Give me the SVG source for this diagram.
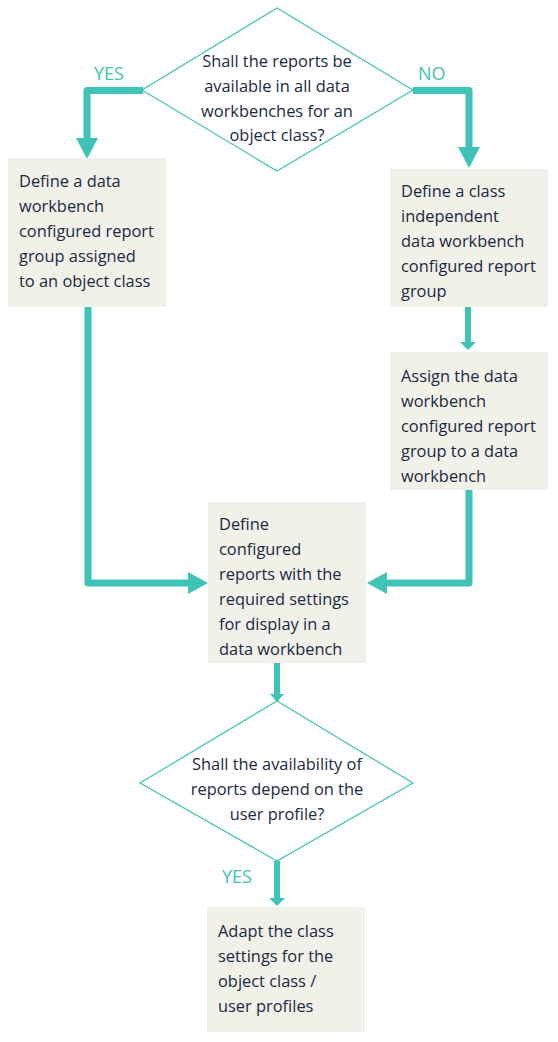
<svg xmlns="http://www.w3.org/2000/svg" width="558" height="1042" viewBox="0 0 558 1042">
<style>
.box{fill:#F1F0E9;}
.dia{fill:#FFFFFF;stroke:#3FC3B6;stroke-width:1.2;}
.t{font-family:"Open Sans","Noto Sans",sans-serif;font-size:16.4px;fill:#1A2A40;}
.c{text-anchor:middle;}
.lbl{font-family:"Open Sans","Noto Sans",sans-serif;font-size:18px;fill:#3FC3B6;}
.ln{fill:none;stroke:#3FC3B6;stroke-linejoin:round;}
.ah{fill:#3FC3B6;}
</style>
<rect width="558" height="1042" fill="#FFFFFF"/>
<g id="connectors">
<path class="ln" stroke-width="7" d="M143,90.5 H87 V140"/>
<polygon class="ah" points="76,138 98,138 87,159"/>
<path class="ln" stroke-width="7" d="M413,90.5 H469 V148"/>
<polygon class="ah" points="458,147 480,147 469,168"/>
<path class="ln" stroke-width="6" d="M468,307 V343"/>
<polygon class="ah" points="460,342 476,342 468,350"/>
<path class="ln" stroke-width="7" d="M88,307 V583 H190"/>
<polygon class="ah" points="188,572 188,594 208,583"/>
<path class="ln" stroke-width="7" d="M469,490 V583 H385"/>
<polygon class="ah" points="387,572 387,594 367,583"/>
<path class="ln" stroke-width="6" d="M277,663 V695"/>
<polygon class="ah" points="270,694 284,694 277,702"/>
<path class="ln" stroke-width="6" d="M277,861 V899"/>
<polygon class="ah" points="269,898 285,898 277,906"/>
<text class="lbl" x="94" y="80">YES</text>
<text class="lbl" x="418" y="80">NO</text>
<text class="lbl" x="222" y="883">YES</text>
</g>
<g id="decision1">
<polygon class="dia" points="277,8 413,90 277,171 142,90"/>
<text class="t c" x="277" y="67">Shall the reports be</text>
<text class="t c" x="277" y="92">available in all data</text>
<text class="t c" x="277" y="117">workbenches for an</text>
<text class="t c" x="277" y="141">object class?</text>
</g>
<g id="box1">
<rect class="box" x="8" y="158" width="158" height="149"/>
<text class="t" x="19" y="187">Define a data</text>
<text class="t" x="19" y="212">workbench</text>
<text class="t" x="19" y="237">configured report</text>
<text class="t" x="19" y="262">group assigned</text>
<text class="t" x="19" y="287">to an object class</text>
</g>
<g id="box2">
<rect class="box" x="390" y="169" width="158" height="138"/>
<text class="t" x="401" y="197">Define a class</text>
<text class="t" x="401" y="222">independent</text>
<text class="t" x="401" y="247">data workbench</text>
<text class="t" x="401" y="272">configured report</text>
<text class="t" x="401" y="297">group</text>
</g>
<g id="box3">
<rect class="box" x="390" y="352" width="158" height="138"/>
<text class="t" x="401" y="382">Assign the data</text>
<text class="t" x="401" y="407">workbench</text>
<text class="t" x="401" y="432">configured report</text>
<text class="t" x="401" y="457">group to a data</text>
<text class="t" x="401" y="482">workbench</text>
</g>
<g id="box4">
<rect class="box" x="208" y="502" width="158" height="161"/>
<text class="t" x="219" y="530">Define</text>
<text class="t" x="219" y="555">configured</text>
<text class="t" x="219" y="580">reports with the</text>
<text class="t" x="219" y="605">required settings</text>
<text class="t" x="219" y="630">for display in a</text>
<text class="t" x="219" y="655">data workbench</text>
</g>
<g id="decision2">
<polygon class="dia" points="277,701 413,783 277,861 140,783"/>
<text class="t c" x="277" y="770">Shall the availability of</text>
<text class="t c" x="277" y="795">reports depend on the</text>
<text class="t c" x="277" y="820">user profile?</text>
</g>
<g id="box5">
<rect class="box" x="207" y="907" width="158" height="125"/>
<text class="t" x="218" y="937">Adapt the class</text>
<text class="t" x="218" y="962">settings for the</text>
<text class="t" x="218" y="987">object class /</text>
<text class="t" x="218" y="1012">user profiles</text>
</g>
</svg>
